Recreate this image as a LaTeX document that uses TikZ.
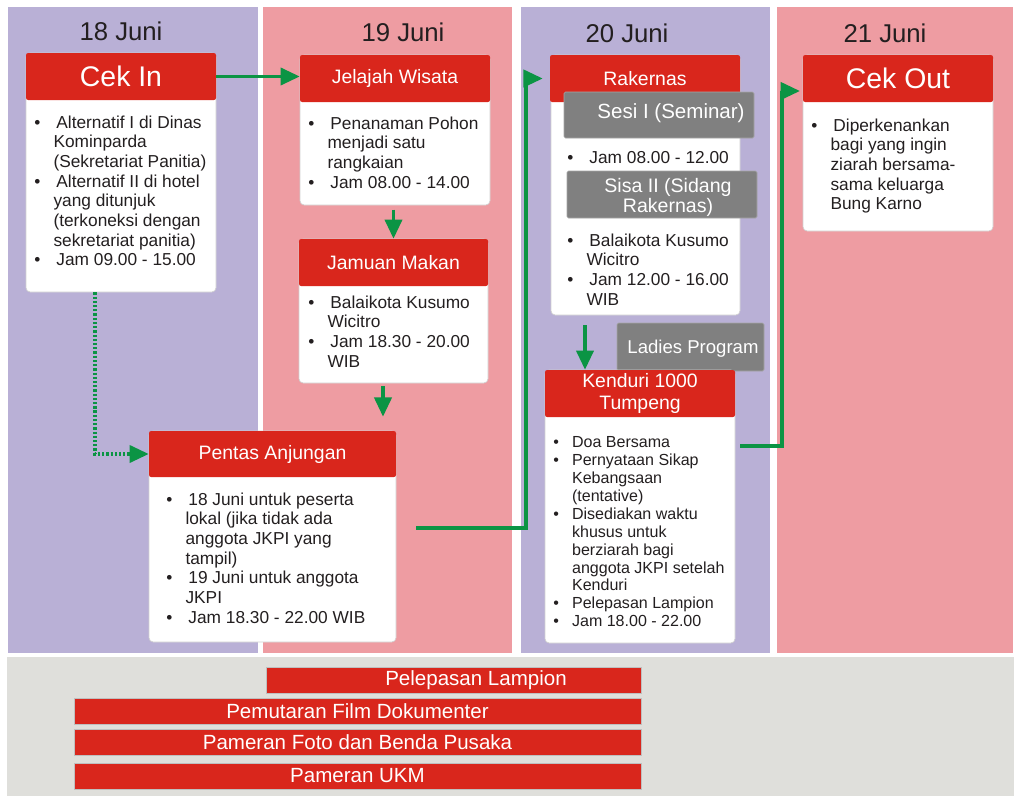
\documentclass[tikz,border=0pt]{standalone}
\usepackage{fontspec}
\setmainfont{Liberation Sans}
\usetikzlibrary{arrows.meta,calc}
\definecolor{cpurple}{HTML}{B9B0D6}
\definecolor{cpink}{HTML}{EE9CA2}
\definecolor{cred}{HTML}{D9261C}
\definecolor{cgreen}{HTML}{0B9444}
\definecolor{cgreyb}{HTML}{808080}
\definecolor{cpanel}{HTML}{DFDFDB}
\definecolor{ctext}{HTML}{231F20}
\newenvironment{blist}{\begin{tabular}[t]{@{}l@{\hspace{0.33cm}}l@{}}}{\end{tabular}}
\newcommand\bu{\textbullet}
\begin{document}
\begin{tikzpicture}[x=0.025cm,y=-0.025cm,
 sz/.style 2 args={minimum width=#1*0.025cm,minimum height=#2*0.025cm},
 hdr/.style={fill=cred, inner sep=0pt, text=white, font=\fontsize{13.8}{15}\selectfont, align=center, rounded corners=1.5pt},
 bigf/.style={font=\fontsize{20.2}{22}\selectfont},
 body/.style={fill=white, draw=black!18, line width=0.5pt, inner sep=0pt, rounded corners=3pt},
 txt/.style={anchor=base west, inner sep=0pt, text=ctext, font=\fontsize{12.3}{14}\selectfont},
 greybox/.style={fill=cgreyb, draw=black!35, line width=0.4pt, inner sep=0pt, rounded corners=1pt},
 gtxt/.style={text=white, inner sep=0pt, align=center},
 datelbl/.style={text=ctext, font=\fontsize{18.3}{20}\selectfont, inner sep=0pt},
 bar/.style={fill=cred, draw=black!25, line width=0.4pt, inner sep=0pt, text=white, font=\fontsize{14.6}{16}\selectfont},
 garrow/.style={draw=cgreen, line width=2.4pt, -{Triangle[length=0.48cm,width=0.43cm]}},
 gdot/.style={garrow, dash pattern=on 1.6pt off 1.4pt},
]
\useasboundingbox (0,0) rectangle (1014,796);
\fill[white] (0,0) rectangle (1014,796);
% columns
\fill[cpurple] (8,7) rectangle (258,653);
\fill[cpink] (263,7) rectangle (512,653);
\fill[cpurple] (521,7) rectangle (770,653);
\fill[cpink] (777,7) rectangle (1013,653);
\fill[cpanel] (7,657) rectangle (1014,796);
% dates
\node[datelbl] (d18) at (121,31) {18 Juni};
\node[datelbl] (d19) at (403,32) {19 Juni};
\node[datelbl] (d20) at (627,33) {20 Juni};
\node[datelbl] (d21) at (885,33) {21 Juni};

% Cek In
\node[body, sz={190}{239}] (cekinB) at (121,172.5) {};
\node[hdr, bigf, sz={190}{47}] (cekin) at (121,76.5) {Cek In};
\node[txt] (cekinT) at (34,128) {\begin{blist}
\bu & \,Alternatif I di Dinas\\
 & Kominparda\\
 & (Sekretariat Panitia)\\
\bu & \,Alternatif II di hotel\\
 & yang ditunjuk\\
 & (terkoneksi dengan\\
 & sekretariat panitia)\\
\bu & \,Jam 09.00 - 15.00
\end{blist}};

% Jelajah Wisata
\node[body, sz={190}{150}] (jelajahB) at (395,130) {};
\node[hdr, sz={190}{47}] (jelajah) at (395,78.5) {Jelajah Wisata};
\node[txt] (jelajahT) at (308,129) {\begin{blist}
\bu & \,Penanaman Pohon\\
 & menjadi satu\\
 & rangkaian\\
\bu & \,Jam 08.00 - 14.00
\end{blist}};

% Jamuan Makan
\node[body, sz={189}{144}] (jamuanB) at (393.5,311) {};
\node[hdr, sz={189}{47}] (jamuan) at (393.5,262.5) {Jamuan Makan};
\node[txt] (jamuanT) at (308,308) {\begin{blist}
\bu & \,Balaikota Kusumo\\
 & Wicitro\\
\bu & \,Jam 18.30 - 20.00\\
 & WIB
\end{blist}};

% Pentas Anjungan
\node[body, sz={247}{211}] (pentasB) at (272.5,536.5) {};
\node[hdr, sz={247}{46}] (pentas) at (272.5,454) {Pentas Anjungan};
\node[txt] (pentasT) at (166,505) {\begin{blist}
\bu & \,18 Juni untuk peserta\\
 & lokal (jika tidak ada\\
 & anggota JKPI yang\\
 & tampil)\\
\bu & \,19 Juni untuk anggota\\
 & JKPI\\
\bu & \,Jam 18.30 - 22.00 WIB
\end{blist}};

% Rakernas
\node[body, sz={189}{260}] (rakernasB) at (645.5,185) {};
\node[hdr, sz={190}{47}] (rakernas) at (645,78.5) {Rakernas};
\node[greybox, sz={190}{46}] (sesi) at (659,115) {};
\node[gtxt, font=\fontsize{14.6}{15}\selectfont] (sesiT) at (671,113) {Sesi I (Seminar)};
\node[txt] (rakT1) at (567,163) {\begin{blist}
\bu & \,Jam 08.00 - 12.00
\end{blist}};
\node[greybox, sz={190}{47}] (sisa) at (662,194.5) {};
\node[gtxt, font=\fontsize{13.9}{14.2}\selectfont] (sisaT) at (668,197) {Sisa II (Sidang\\Rakernas)};
\node[txt] (rakT2) at (567,246) {\begin{blist}
\bu & \,Balaikota Kusumo\\
 & Wicitro\\
\bu & \,Jam 12.00 - 16.00\\
 & WIB
\end{blist}};

% Ladies Program
\node[greybox, sz={147}{48}] (ladies) at (690.5,347) {};
\node[gtxt, font=\fontsize{13.2}{14}\selectfont] (ladiesT) at (693,349) {Ladies Program};

% Kenduri
\node[body, sz={190}{273}] (kenduriB) at (640,506.5) {};
\node[hdr, sz={190}{47}] (kenduri) at (640,393.5) {Kenduri 1000\\Tumpeng};
\node[txt, font=\fontsize{11.4}{12.8}\selectfont] (kenduriT) at (553,447) {\begin{blist}
\bu & Doa Bersama\\
\bu & Pernyataan Sikap\\
 & Kebangsaan\\
 & (tentative)\\
\bu & Disediakan waktu\\
 & khusus untuk\\
 & berziarah bagi\\
 & anggota JKPI setelah\\
 & Kenduri\\
\bu & Pelepasan Lampion\\
\bu & Jam 18.00 - 22.00
\end{blist}};

% Cek Out
\node[body, sz={190}{176}] (cekoutB) at (898,143) {};
\node[hdr, bigf, sz={190}{47}] (cekout) at (898,78.5) {Cek Out};
\node[txt] (cekoutT) at (811,131) {\begin{blist}
\bu & \,Diperkenankan\\
 & bagi yang ingin\\
 & ziarah bersama-\\
 & sama keluarga\\
 & Bung Karno
\end{blist}};

% bottom bars
\node[bar, sz={375}{26}] (lampion) at (453.5,680) {\hspace*{1.125cm}Pelepasan Lampion};
\node[bar, sz={567}{26}] (film) at (357.5,711) {Pemutaran Film Dokumenter};
\node[bar, sz={567}{26}] (foto) at (357.5,742) {Pameran Foto dan Benda Pusaka};
\node[bar, sz={567}{26}] (ukm) at (357.5,776) {Pameran UKM};

% connectors
\coordinate (dx) at (95,300);
\coordinate (jx) at (383,400);
\coordinate (kx) at (585,340);
\coordinate (ps) at (416,528);
\coordinate (pv) at (526,300);
\coordinate (ks) at (740,446);
\coordinate (kv) at (782,91);

\draw[garrow] (cekin.east) -- (cekin.east -| jelajah.west);
\draw[garrow, shorten <=3pt] (jelajahB.south -| jamuan.north) -- (jamuan.north);
\draw[garrow, shorten <=2pt, shorten >=10pt] (jamuanB.south -| jx) -- (pentas.north -| jx);
\draw[gdot] (cekinB.south -| dx) |- (pentas.west);
\draw[garrow, shorten >=5pt] (ps) -| (pv |- rakernas.west) -- (rakernas.west);
\draw[garrow, shorten <=7pt] (rakernasB.south -| kx) -- (kenduri.north -| kx);
\draw[garrow, shorten >=2pt] (ks) -| (kv) -- (kv -| cekout.west);
\end{tikzpicture}
\end{document}
